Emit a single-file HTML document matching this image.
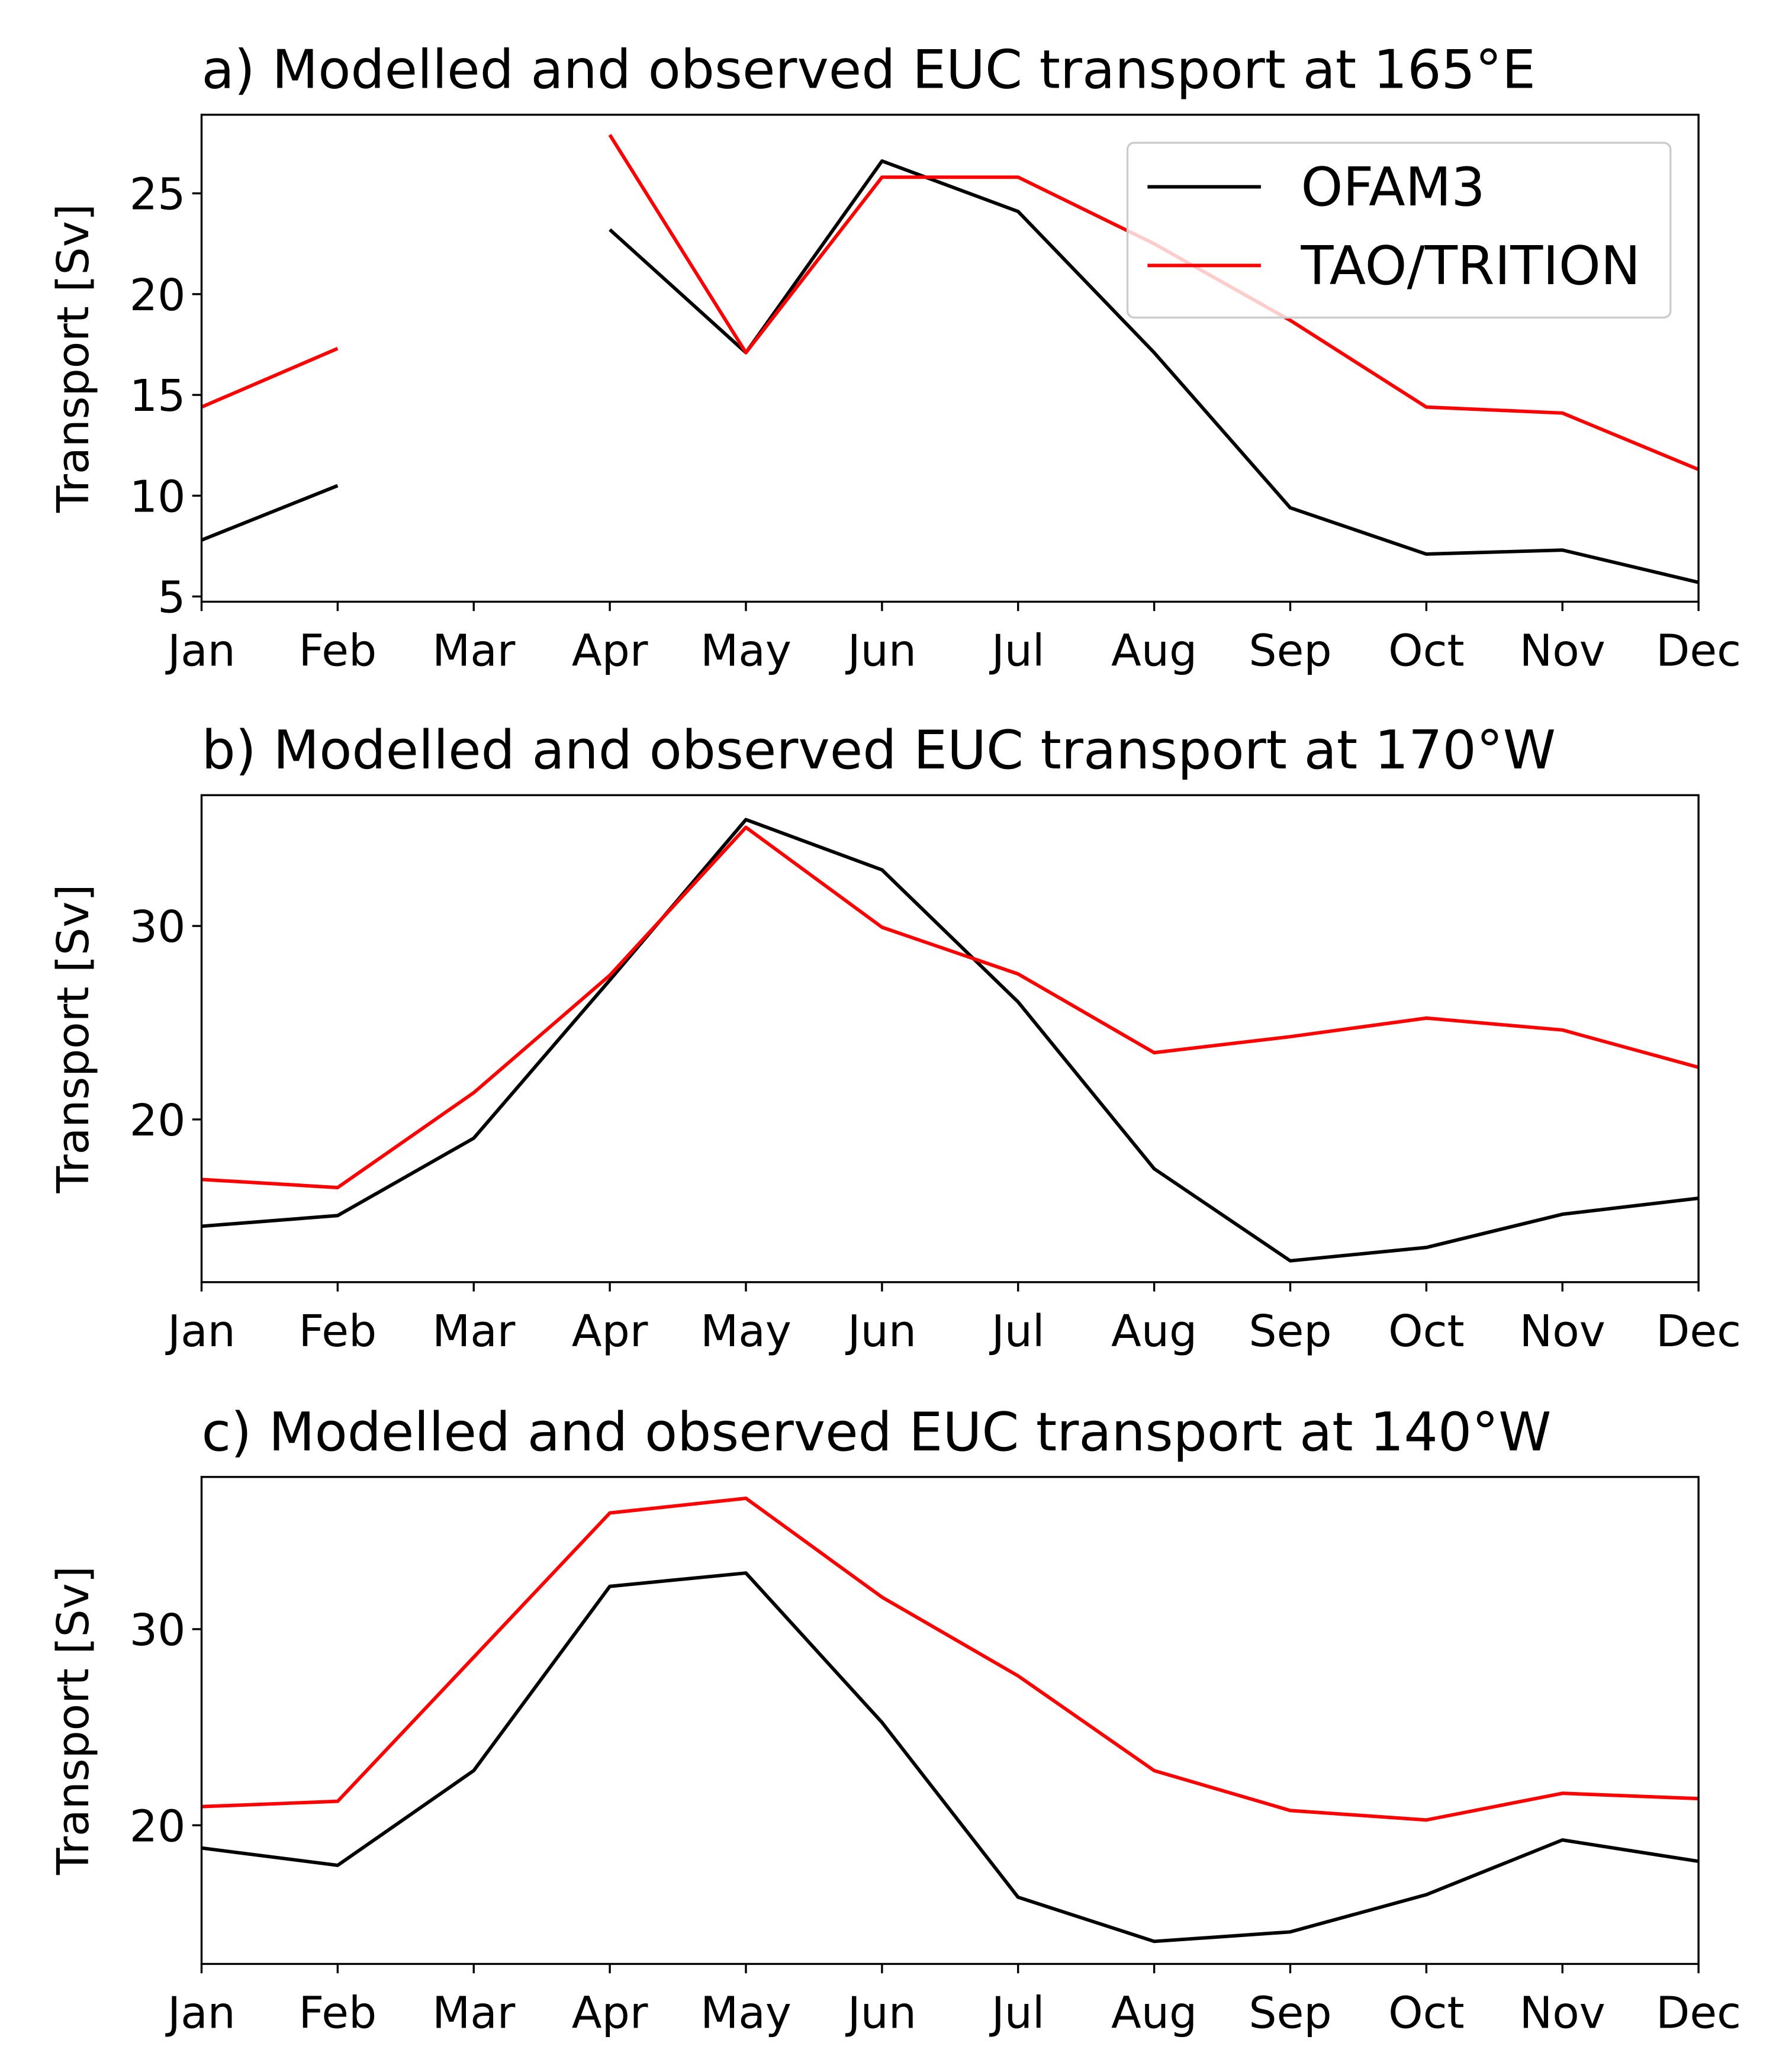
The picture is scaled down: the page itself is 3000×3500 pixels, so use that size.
<!DOCTYPE html>
<html><head><meta charset="utf-8"><style>
html,body{margin:0;padding:0;background:#fff;}
svg{display:block;font-family:"DejaVu Sans","Liberation Sans",sans-serif;}
</style></head><body>
<svg id="fig" width="3000" height="3500" viewBox="0 0 1331 1553" xmlns="http://www.w3.org/2000/svg"></svg>
<script>
const months = ["Jan","Feb","Mar","Apr","May","Jun","Jul","Aug","Sep","Oct","Nov","Dec"];
const ofamA = [7.8,10.5,null,23.2,17.1,26.6,24.1,17.1,9.4,7.1,7.3,5.7];
const taoA = [14.4,17.3,null,27.9,17.1,25.8,25.8,22.5,18.7,14.4,14.1,11.3];
const ofamB = [14.48,15.03,19.03,27.2,35.5,32.9,26.07,17.45,12.69,13.38,15.1,15.93];
const taoB = [16.9,16.48,21.38,27.45,35.1,29.93,27.52,23.45,24.28,25.24,24.62,22.69];
const ofamC = [18.84,17.96,22.79,32.18,32.86,25.24,16.33,14.08,14.56,16.46,19.25,18.16];
const taoC = [20.95,21.22,28.57,35.92,36.67,31.63,27.62,22.79,20.75,20.27,21.63,21.36];
const ticksA = [5,10,15,20,25];
const ticksB = [20,30];
const ticksC = [20,30];
const titles = ["a) Modelled and observed EUC transport at 165°E","b) Modelled and observed EUC transport at 170°W","c) Modelled and observed EUC transport at 140°W"];

const NS="http://www.w3.org/2000/svg";
const svg=document.getElementById('fig');
function mk(tag,attrs,parent){const e=document.createElementNS(NS,tag);for(const k in attrs)e.setAttribute(k,attrs[k]);(parent||svg).appendChild(e);return e;}

const panels=[
 {top:86,bot:451,ymin:4.74,ymax:28.9,ofam:ofamA,tao:taoA,ticks:ticksA,key:'a'},
 {top:596,bot:961,ymin:11.59,ymax:36.76,ofam:ofamB,tao:taoB,ticks:ticksB,key:'b'},
 {top:1107,bot:1472,ymin:12.93,ymax:37.76,ofam:ofamC,tao:taoC,ticks:ticksC,key:'c'}
];
const L=151,R=1273;
panels.forEach((p,pi)=>{
  const g=mk('g',{});
  
  
  const xs=i=>L+(R-L)*i/11;
  const ys=v=>p.bot-(v-p.ymin)/(p.ymax-p.ymin)*(p.bot-p.top);
  [[p.ofam,'#000','ofam3-line'],[p.tao,'#ff0000','tao-triton-line']].forEach(([arr,col,nm])=>{
    let d='',pen=false;
    arr.forEach((v,i)=>{ if(v===null){pen=false;return;} d+=(pen?'L':'M')+xs(i).toFixed(1)+' '+ys(v).toFixed(1)+' '; pen=true;});
    const path=mk('path',{d:d,fill:'none',stroke:col,'stroke-width':2.6,'stroke-linejoin':'round'},g);
    
    
  });
  const frame=mk('rect',{x:L,y:p.top,width:R-L,height:p.bot-p.top,fill:'none',stroke:'#000','stroke-width':1.5},g);
  
  
  months.forEach((m,i)=>{
    mk('line',{x1:xs(i),x2:xs(i),y1:p.bot,y2:p.bot+7,stroke:'#000','stroke-width':1.5},g);
    const t=mk('text',{x:xs(i),y:p.bot+48,'font-size':33,'text-anchor':'middle',fill:'#000'},g);
    t.textContent=m;
    
    
  });
  p.ticks.forEach(v=>{
    const y=ys(v);
    mk('line',{x1:L-7,x2:L,y1:y,y2:y,stroke:'#000','stroke-width':1.5},g);
    const t=mk('text',{x:L-12,y:y+12,'font-size':33,'text-anchor':'end',fill:'#000'},g);
    t.textContent=v;
    
    
  });
  const cy=(p.top+p.bot)/2;
  const yl=mk('text',{x:0,y:0,transform:`translate(66,${cy}) rotate(-90)`,'font-size':33,'text-anchor':'middle',fill:'#000'},g);
  yl.textContent='Transport [Sv]';
  
  
  const tt=mk('text',{x:L,y:p.top-20,'font-size':40,fill:'#000'},g);
  tt.textContent=titles[pi];
  
  
});
const lg=mk('g',{});


mk('rect',{x:845,y:107,width:407,height:131,rx:5,fill:'#fff','fill-opacity':0.8,stroke:'#ccc','stroke-width':1.5},lg);
mk('line',{x1:860,x2:945,y1:140,y2:140,stroke:'#000','stroke-width':2.6},lg);
mk('line',{x1:860,x2:945,y1:199,y2:199,stroke:'#ff0000','stroke-width':2.6},lg);
const e1=mk('text',{x:975,y:154,'font-size':40,fill:'#000'},lg);e1.textContent='OFAM3';


const e2=mk('text',{x:975,y:213,'font-size':40,fill:'#000'},lg);e2.textContent='TAO/TRITION';


</script>
</body></html>
